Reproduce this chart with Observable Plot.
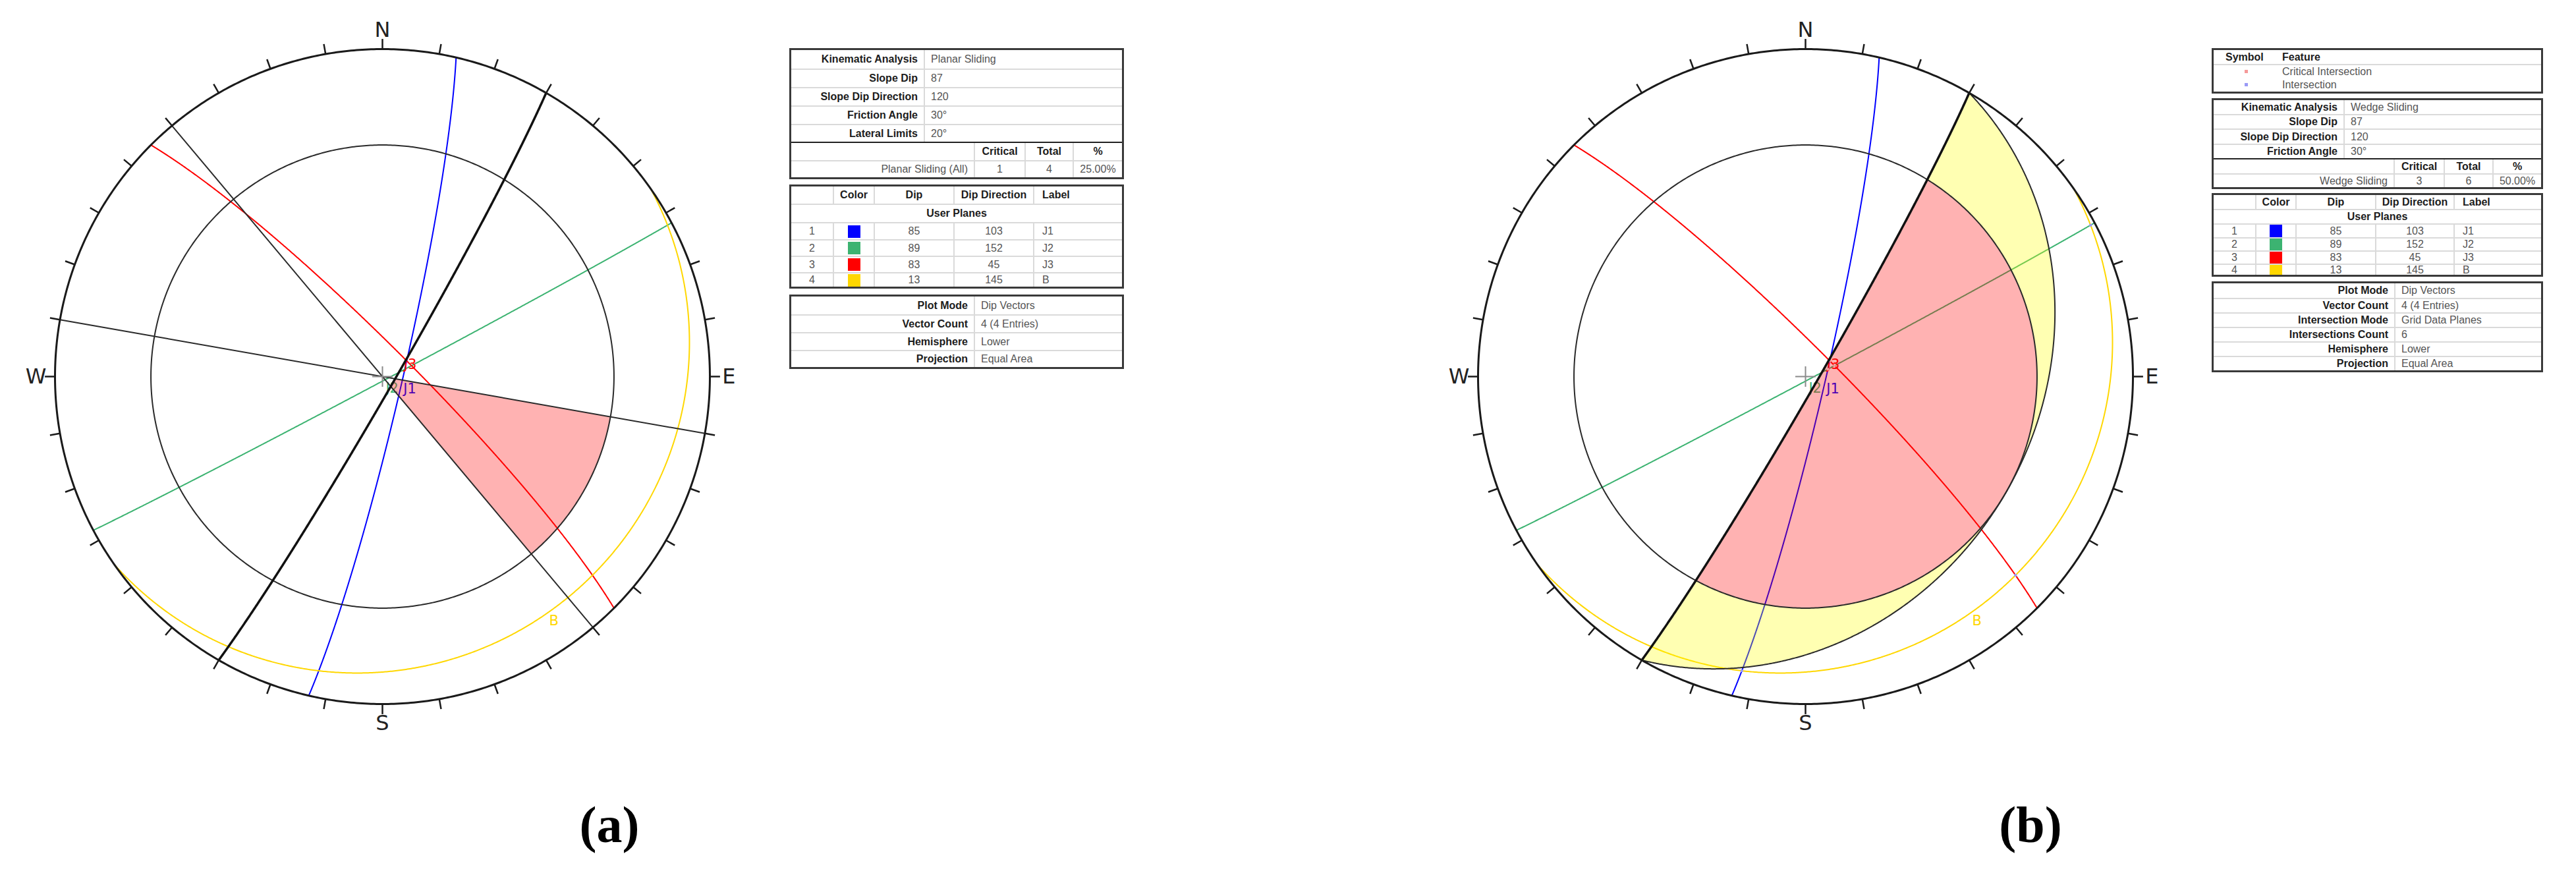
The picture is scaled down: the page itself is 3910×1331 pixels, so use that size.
<!DOCTYPE html>
<html><head><meta charset="utf-8">
<script src="https://cdn.jsdelivr.net/npm/d3@7"></script>
<script src="https://cdn.jsdelivr.net/npm/@observablehq/plot@0.6"></script>
<style>
body{margin:0;background:#fff;width:3910px;height:1331px;position:relative;overflow:hidden;font-family:"Liberation Sans",Arial,sans-serif;}
.panel{position:absolute;top:0;}
.box{position:absolute;border:3px solid #3a3a3a;box-sizing:border-box;background:#fff;}
.row{display:flex;border-top:2px solid #dadada;box-sizing:border-box;}
.row.first{border-top:none;}
.row.sep{border-top:2px solid #222;}
.cell{box-sizing:border-box;border-left:2px solid #dadada;display:flex;align-items:center;font-size:16px;color:#555;padding:0 9px;white-space:nowrap;overflow:hidden;}
.cell.nob{border-left:none;}
.cell.last{flex:1;}
.b{font-weight:bold;color:#1c1c1c;}
.sw{display:inline-block;width:19px;height:19px;}
.mk{display:inline-block;width:5px;height:5px;}
.caption{position:absolute;font-family:"Liberation Serif","Times New Roman",serif;font-weight:bold;font-size:78px;line-height:78px;transform:translateX(-50%);color:#000;}
</style></head><body>
<div id="pa" class="panel" style="left:0px"></div>
<div id="pb" class="panel" style="left:2050px"></div>
<div class="caption" style="left:925px;top:1213px">(a)</div>
<div class="caption" style="left:3082px;top:1213px">(b)</div>
<script>
// ---------------- data ----------------
const planeIds = [1, 2, 3, 4];
const planeLabels = ["J1", "J2", "J3", "B"];
const planeDips = [85, 89, 83, 13];
const planeDipDirs = [103, 152, 45, 145];
const planeColors = ["#0000ff", "#3cb371", "#ff0000", "#ffd700"];
const slopeDip = 87;
const slopeDipDir = 120;
const frictionAngle = 30;
const lateralLimit = 20;
const compassLabels = ["N", "E", "S", "W"];
const compassAzimuths = [0, 90, 180, 270];
const tickAzimuths = d3.range(0, 360, 10);

const kinRowsA = [["Kinematic Analysis", "Planar Sliding"], ["Slope Dip", "87"], ["Slope Dip Direction", "120"], ["Friction Angle", "30°"], ["Lateral Limits", "20°"]];
const critHeader = ["Critical", "Total", "%"];
const critRowA = ["Planar Sliding (All)", "1", "4", "25.00%"];
const infoRowsA = [["Plot Mode", "Dip Vectors"], ["Vector Count", "4 (4 Entries)"], ["Hemisphere", "Lower"], ["Projection", "Equal Area"]];
const kinRowsB = [["Kinematic Analysis", "Wedge Sliding"], ["Slope Dip", "87"], ["Slope Dip Direction", "120"], ["Friction Angle", "30°"]];
const critRowB = ["Wedge Sliding", "3", "6", "50.00%"];
const infoRowsB = [["Plot Mode", "Dip Vectors"], ["Vector Count", "4 (4 Entries)"], ["Intersection Mode", "Grid Data Planes"], ["Intersections Count", "6"], ["Hemisphere", "Lower"], ["Projection", "Equal Area"]];
const planeHeader = ["", "Color", "Dip", "Dip Direction", "Label"];
const symbolHeader = ["Symbol", "Feature"];
const symbolFeatures = ["Critical Intersection", "Intersection"];
const symbolColors = ["#f59a9a", "#9a9af5"];

// ---------------- geometry (lower hemisphere, equal area) ----------------
const rad = Math.PI / 180;
function proj(v) { let [x, y, z] = v; if (z > 0) { x = -x; y = -y; z = -z; } const k = 1 / Math.sqrt(1 - z); return [x * k, y * k]; }
function lineVec(trend, plunge) { const t = trend * rad, p = plunge * rad; return [Math.sin(t) * Math.cos(p), Math.cos(t) * Math.cos(p), -Math.sin(p)]; }
function ptAt(trend, plunge) { return proj(lineVec(trend, plunge)); }
function gcPoints(dip, dd, n = 720) {
  const s = lineVec(dd - 90, 0), d = lineVec(dd, dip);
  return d3.range(n + 1).map(i => { const t = Math.PI * i / n; return proj([0, 1, 2].map(k => Math.cos(t) * s[k] + Math.sin(t) * d[k])); });
}
function apparentDip(dip, dd, trend) { return Math.atan(Math.tan(dip * rad) * Math.cos((trend - dd) * rad)) / rad; }
function normalOf(dip, dd) { const d = dip * rad, a = dd * rad; return [Math.sin(a) * Math.sin(d), Math.cos(a) * Math.sin(d), Math.cos(d)]; }
function cross(a, b) { return [a[1] * b[2] - a[2] * b[1], a[2] * b[0] - a[0] * b[2], a[0] * b[1] - a[1] * b[0]]; }

const planes = planeIds.map((id, i) => ({ id, label: planeLabels[i], dip: planeDips[i], dd: planeDipDirs[i], color: planeColors[i] }));
const circle = plunge => d3.range(0, 360.5, 0.5).map(t => ptAt(t, plunge));
const X = d => d[0], Y = d => d[1];

function base(marks, W, cx, cy, R) {
  return Plot.plot({
    width: W, height: 1331, margin: 0,
    x: { domain: [-1, 1], range: [cx - R, cx + R] },
    y: { domain: [-1, 1], range: [cy + R, cy - R] },
    axis: null,
    style: { background: "transparent", overflow: "visible" },
    marks
  });
}

function frame() {
  const tickLen = 0.031, lab = 1.058;
  return [
    Plot.line(circle(0), { x: X, y: Y, stroke: "#1a1a1a", strokeWidth: 3 }),
    Plot.link(tickAzimuths, { x1: a => Math.sin(a * rad), y1: a => Math.cos(a * rad), x2: a => (1 + tickLen) * Math.sin(a * rad), y2: a => (1 + tickLen) * Math.cos(a * rad), stroke: "#1a1a1a", strokeWidth: 2.5 }),
    Plot.text(compassLabels, { x: (d, i) => lab * Math.sin(compassAzimuths[i] * rad), y: (d, i) => lab * Math.cos(compassAzimuths[i] * rad), text: d => d, fontSize: 32, fontFamily: "DejaVu Sans", fill: "#222", textAnchor: "middle", lineAnchor: "middle" }),
    Plot.dot([[0, 0]], { x: X, y: Y, symbol: "plus", r: 10, stroke: "#8a8a8a", strokeWidth: 2 })
  ];
}

function planeMarks() {
  return [
    ...planes.map(p => Plot.line(gcPoints(p.dip, p.dd), { x: X, y: Y, stroke: p.color, strokeWidth: 2 })),
    Plot.text(planes, { x: p => ptAt(p.dd, p.dip)[0], y: p => ptAt(p.dd, p.dip)[1], text: "label", fill: "color", fontSize: 21, fontFamily: "DejaVu Sans", textAnchor: "start", lineAnchor: "top", dx: 2, dy: 4 })
  ];
}

// ---- Panel (a): planar sliding ----
const lo = slopeDipDir - lateralLimit, hi = slopeDipDir + lateralLimit;
const polyA = [
  ...d3.range(lo, hi + 0.01, 0.25).map(t => ptAt(t, frictionAngle)),
  ...d3.range(hi, lo - 0.01, -0.25).map(t => ptAt(t, apparentDip(slopeDip, slopeDipDir, t)))
];
const marksA = [
  ...planeMarks(),
  Plot.line(polyA, { x: X, y: Y, fill: "#ff0000", fillOpacity: 0.3, stroke: "none" }),
  Plot.line(circle(frictionAngle), { x: X, y: Y, stroke: "#2a2a2a", strokeWidth: 2 }),
  Plot.link([lo, hi], { x1: a => Math.sin(a * rad), y1: a => Math.cos(a * rad), x2: a => -Math.sin(a * rad), y2: a => -Math.cos(a * rad), stroke: "#2a2a2a", strokeWidth: 2 }),
  Plot.line(gcPoints(slopeDip, slopeDipDir), { x: X, y: Y, stroke: "#111", strokeWidth: 3.5 }),
  ...frame()
];
document.getElementById("pa").appendChild(base(marksA, 1180, 580, 571, 497));

// ---- Panel (b): wedge sliding ----
const dmax = Math.acos(Math.tan(frictionAngle * rad) / Math.tan(slopeDip * rad)) / rad;
const polyRed = [
  ...d3.range(slopeDipDir - dmax, slopeDipDir + dmax + 0.001, 0.25).map(t => ptAt(t, frictionAngle)),
  ...d3.range(slopeDipDir + dmax, slopeDipDir - dmax - 0.001, -0.05).map(t => ptAt(t, apparentDip(slopeDip, slopeDipDir, t)))
];
const polyYel = [
  ...d3.range(slopeDipDir - 90, slopeDipDir + 90 + 0.001, 0.25).map(t => ptAt(t, Math.max(0, apparentDip(frictionAngle, slopeDipDir, t)))),
  ...d3.range(slopeDipDir + 90, slopeDipDir - 90 - 0.001, -0.02).map(t => ptAt(t, Math.max(0, Math.min(frictionAngle, apparentDip(slopeDip, slopeDipDir, t)))))
];
const inters = [];
for (let i = 0; i < planes.length; i++) for (let j = i + 1; j < planes.length; j++) {
  let v = cross(normalOf(planes[i].dip, planes[i].dd), normalOf(planes[j].dip, planes[j].dd));
  const n = Math.hypot(...v); v = v.map(c => c / n); if (v[2] > 0) v = v.map(c => -c);
  const plunge = Math.asin(-v[2]) / rad, trend = (Math.atan2(v[0], v[1]) / rad + 360) % 360;
  const crit = Math.cos((trend - slopeDipDir) * rad) > 0 && plunge >= frictionAngle && plunge <= apparentDip(slopeDip, slopeDipDir, trend);
  const p = proj(v);
  inters.push({ x: p[0], y: p[1], crit });
}
const marksB = [
  ...planeMarks(),
  Plot.line(polyYel, { x: X, y: Y, fill: "#ffff00", fillOpacity: 0.3, stroke: "none" }),
  Plot.line(polyRed, { x: X, y: Y, fill: "#ff0000", fillOpacity: 0.3, stroke: "none" }),
  Plot.dot(inters, { x: "x", y: "y", symbol: "square", r: 2.2, fill: d => d.crit ? symbolColors[0] : symbolColors[1], stroke: "none" }),
  Plot.line(circle(frictionAngle), { x: X, y: Y, stroke: "#2a2a2a", strokeWidth: 2 }),
  Plot.line(gcPoints(frictionAngle, slopeDipDir), { x: X, y: Y, stroke: "#2a2a2a", strokeWidth: 2 }),
  Plot.line(gcPoints(slopeDip, slopeDipDir), { x: X, y: Y, stroke: "#111", strokeWidth: 3.5 }),
  ...frame()
];
document.getElementById("pb").appendChild(base(marksB, 1300, 690, 571, 497));

// ---------------- tables ----------------
function box(left, top, width, rows) {
  const el = document.createElement("div");
  el.className = "box";
  el.style.left = left + "px"; el.style.top = top + "px"; el.style.width = width + "px";
  rows.forEach((r, ri) => {
    const row = document.createElement("div");
    row.className = "row" + (ri === 0 ? " first" : "") + (r.sep ? " sep" : "") ;
    if (r.noLine) row.style.borderTop = "none";
    row.style.height = r.h + "px";
    r.cells.forEach((c, ci) => {
      const cell = document.createElement("div");
      cell.className = "cell" + (ci === 0 || r.noV ? " nob" : "") + (ci === r.cells.length - 1 ? " last" : "") + (c.b ? " b" : "");
      if (ci < r.cells.length - 1) cell.style.width = c.w + "px";
      cell.style.justifyContent = c.a === "r" ? "flex-end" : c.a === "c" ? "center" : "flex-start";
      if (c.pl != null) cell.style.paddingLeft = c.pl + "px";
      if (c.sw) { const s = document.createElement("span"); s.className = "sw"; s.style.background = c.sw; cell.appendChild(s); }
      else if (c.mk) { const s = document.createElement("span"); s.className = "mk"; s.style.background = c.mk; cell.appendChild(s); }
      else cell.textContent = c.t;
      row.appendChild(cell);
    });
    el.appendChild(row);
  });
  document.body.appendChild(el);
}

function kinTable(left, top, width, kin, kinH, crit, critH, c1, cc) {
  const rows = kin.map((k, i) => ({ h: kinH[i], cells: [{ w: c1, t: k[0], a: "r", b: true }, { t: k[1], a: "l" }] }));
  rows.push({ h: critH[0], sep: true, cells: [{ w: cc[0], t: "", a: "l" }, { w: cc[1], t: critHeader[0], a: "c", b: true }, { w: cc[2], t: critHeader[1], a: "c", b: true }, { t: critHeader[2], a: "c", b: true }] });
  rows.push({ h: critH[1], cells: [{ w: cc[0], t: crit[0], a: "r" }, { w: cc[1], t: crit[1], a: "c" }, { w: cc[2], t: crit[2], a: "c" }, { t: crit[3], a: "c" }] });
  box(left, top, width, rows);
}
function planeTable(left, top, width, hs, cw) {
  const rows = [{ h: hs[0], cells: planeHeader.map((t, i) => ({ w: cw[i], t, a: i === 4 ? "l" : "c", b: true, pl: i === 4 ? 12 : null })) }];
  rows.push({ h: hs[1], noV: true, cells: [{ t: "User Planes", a: "c", b: true }] });
  planes.forEach((p, i) => rows.push({ h: hs[i + 2], cells: [
    { w: cw[0], t: String(p.id), a: "c" }, { w: cw[1], sw: p.color, a: "c" }, { w: cw[2], t: String(p.dip), a: "c" },
    { w: cw[3], t: String(p.dd), a: "c" }, { t: p.label, a: "l", pl: 12 }] }));
  box(left, top, width, rows);
}
function infoTable(left, top, width, info, hs, c1) {
  box(left, top, width, info.map((k, i) => ({ h: hs[i], cells: [{ w: c1, t: k[0], a: "r", b: true }, { t: k[1], a: "l" }] })));
}

// (a)
kinTable(1198, 73, 508, kinRowsA, [28, 28, 28, 28, 27], critRowA, [28, 26], 201, [277, 77, 73]);
planeTable(1198, 280, 508, [26, 28, 26, 25, 25, 22], [63, 62, 121, 121]);
infoTable(1198, 447, 508, infoRowsA, [27, 27, 27, 26], 277);

// (b)
box(3357, 73, 503, [
  { h: 21, noV: true, cells: [{ w: 98, t: symbolHeader[0], a: "l", b: true, pl: 18 }, { t: symbolHeader[1], a: "l", b: true, pl: 6 }] },
  { h: 21, noV: true, cells: [{ w: 98, mk: symbolColors[0], a: "c" }, { t: symbolFeatures[0], a: "l", pl: 6 }] },
  { h: 21, noV: true, noLine: true, cells: [{ w: 98, mk: symbolColors[1], a: "c" }, { t: symbolFeatures[1], a: "l", pl: 6 }] }
]);
kinTable(3357, 149, 503, kinRowsB, [21, 22, 23, 22], critRowB, [23, 21], 197, [273, 76, 74]);
planeTable(3357, 293, 503, [21, 22, 21, 20, 20, 17], [63, 61, 121, 119]);
infoTable(3357, 427, 503, infoRowsB, [22, 22, 22, 22, 22, 22], 274);
</script>
</body></html>
